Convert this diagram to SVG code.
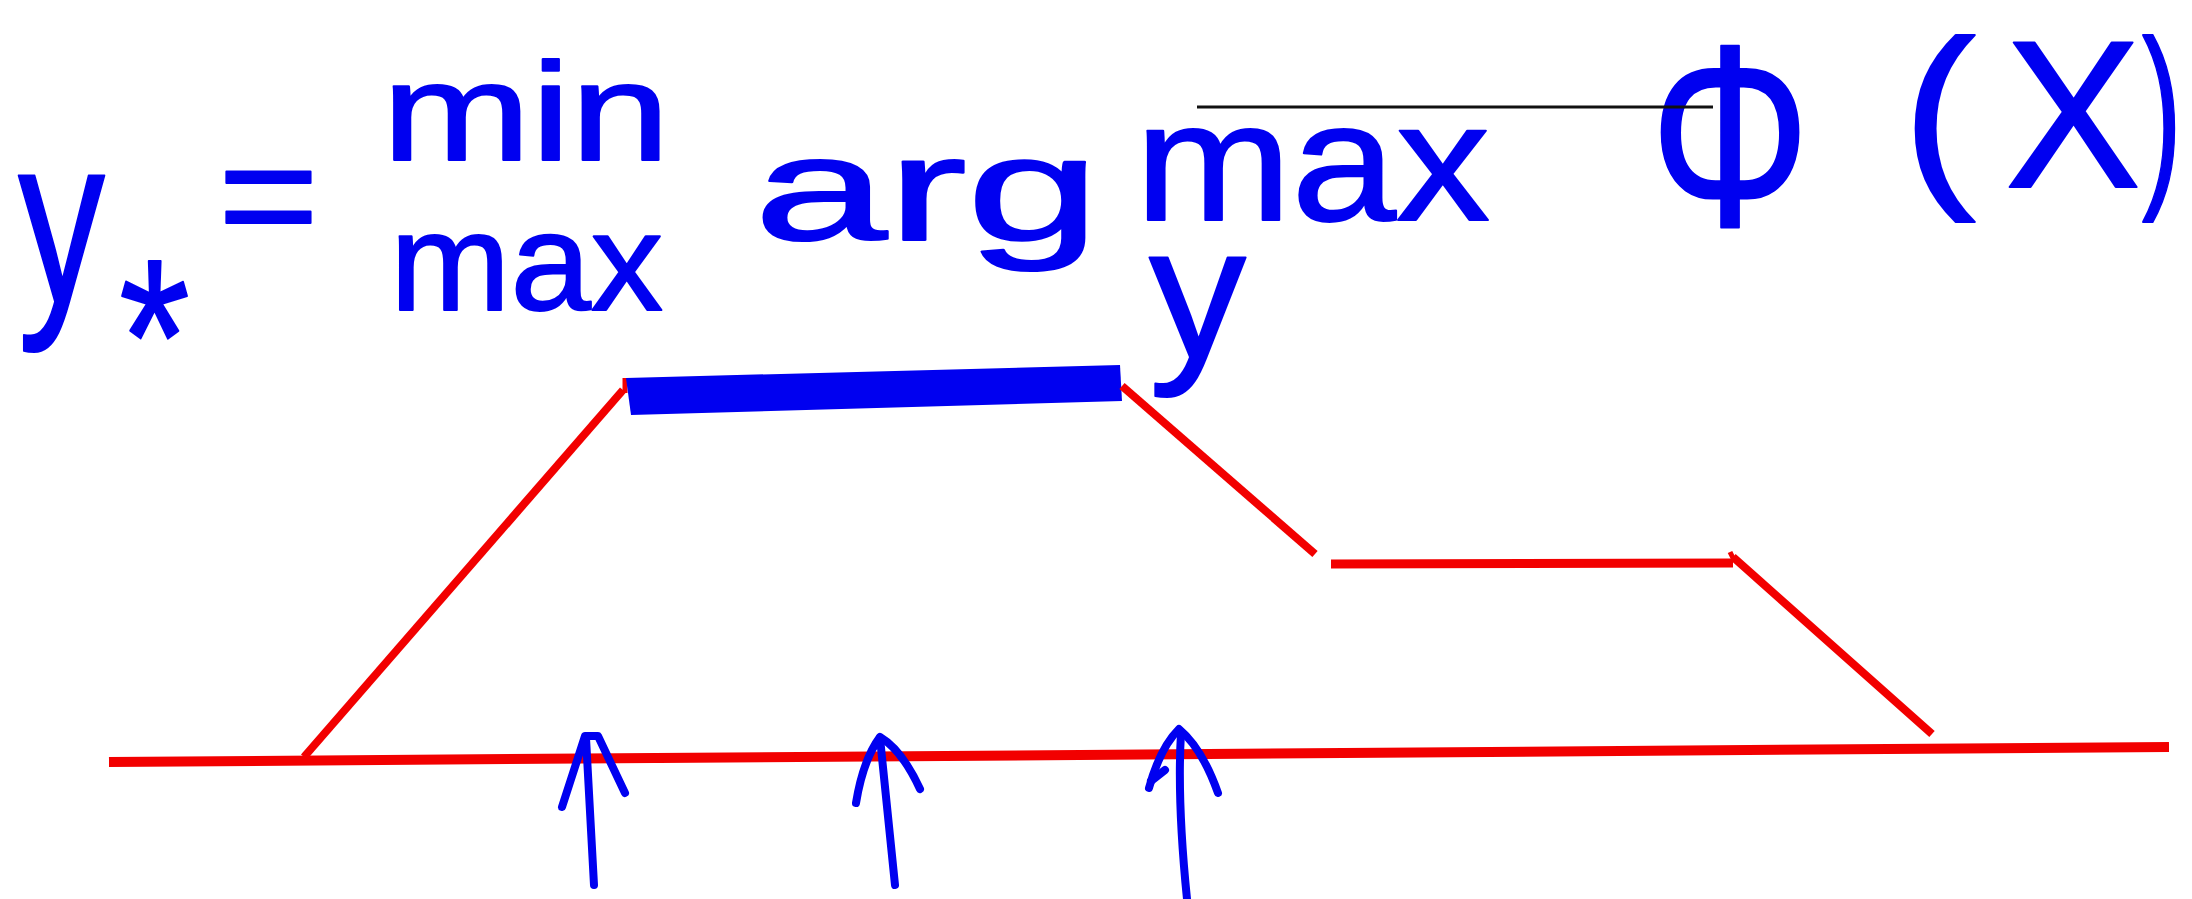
<svg xmlns="http://www.w3.org/2000/svg" width="2192" height="899" viewBox="0 0 2192 899">
<style>
.hw{fill:#0000f0;stroke:#0000f0;stroke-width:2;stroke-linejoin:round;font-family:"Liberation Sans",Arial,sans-serif;}
.red{stroke:#f20000;fill:none;stroke-linecap:butt;}
.arr{stroke:#0000f0;fill:none;stroke-width:8;stroke-linecap:round;stroke-linejoin:round;}
</style>
<rect width="2192" height="899" fill="#ffffff"/>
<g id="formula">
<text class="hw" x="18" y="302" font-size="240" textLength="87" lengthAdjust="spacingAndGlyphs">y</text>
<text class="hw" x="119" y="413" font-size="220" textLength="71" lengthAdjust="spacingAndGlyphs">*</text>
<text class="hw" x="218" y="250" font-size="160" textLength="101" lengthAdjust="spacingAndGlyphs">=</text>
<text class="hw" x="382" y="160" font-size="140" textLength="288" lengthAdjust="spacingAndGlyphs">min</text>
<text class="hw" x="390" y="310" font-size="140" textLength="273" lengthAdjust="spacingAndGlyphs">max</text>
<text class="hw" x="754" y="240" font-size="148" textLength="346" lengthAdjust="spacingAndGlyphs">arg</text>
<text class="hw" x="1135" y="220" font-size="168" textLength="355" lengthAdjust="spacingAndGlyphs">max</text>
<text class="hw" x="1149" y="358" font-size="189" textLength="97" lengthAdjust="spacingAndGlyphs">y</text>
<text class="hw" x="1650" y="226" font-size="260" textLength="160" lengthAdjust="spacingAndGlyphs">Φ</text>
<text class="hw" x="1902" y="180" font-size="200" textLength="74" lengthAdjust="spacingAndGlyphs">(</text>
<text class="hw" x="2005" y="187" font-size="210" textLength="136" lengthAdjust="spacingAndGlyphs">X</text>
<text class="hw" x="2142" y="180" font-size="200" textLength="40" lengthAdjust="spacingAndGlyphs">)</text>
<line x1="1197" y1="107" x2="1713" y2="107" stroke="#111111" stroke-width="3"/>
</g>
<g id="curve">
<line class="red" x1="109" y1="762" x2="2169" y2="747" stroke-width="10"/>
<line class="red" x1="304" y1="757" x2="623" y2="390" stroke-width="8"/>
<line class="red" x1="625" y1="378" x2="625" y2="393" stroke-width="5"/>
<polygon points="626,378 1120,365 1122,401 631,415" fill="#0000f0"/>
<line class="red" x1="1122" y1="386" x2="1315" y2="554" stroke-width="8"/>
<line class="red" x1="1331" y1="564" x2="1733" y2="563" stroke-width="9"/>
<line class="red" x1="1730" y1="552" x2="1734" y2="560" stroke-width="5"/>
<line class="red" x1="1733" y1="557" x2="1932" y2="734" stroke-width="8"/>
</g>
<g id="arrows">
<path class="arr" d="M594,885 L586,738"/>
<path class="arr" d="M562,807 L585,736 L598,736 L625,793"/>
<path class="arr" d="M895,885 L880,738"/>
<path class="arr" d="M856,803 Q863,760 880,737 Q902,750 920,789"/>
<path class="arr" d="M1187,899 Q1177,800 1181,733"/>
<path class="arr" d="M1149,788 Q1160,748 1179,729 Q1202,748 1218,793"/>
<path class="arr" d="M1151,781 L1165,770"/>
</g>
</svg>
